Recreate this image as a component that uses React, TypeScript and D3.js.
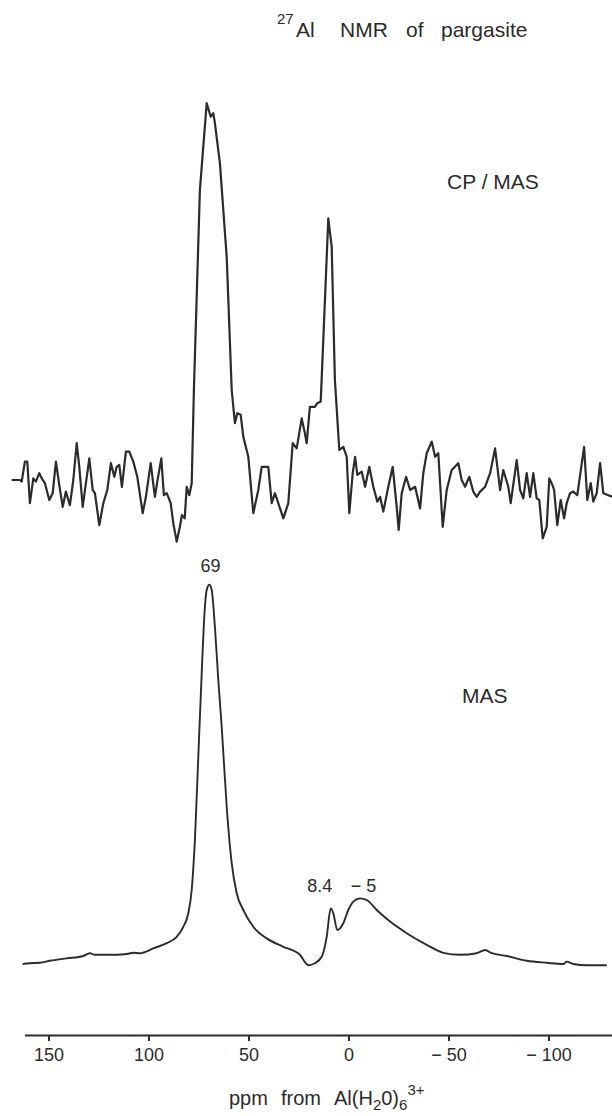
import React, { useEffect, useRef } from "react"
import * as d3 from "d3"

const W = 612
const H = 1116
const FONT = "'Liberation Sans', Arial, Helvetica, sans-serif"
const INK = "#2b2b2b"

// CP/MAS trace, chemical shift (ppm) and signal (peak ~ 100)
const cpShift = [
  168.4, 164.3, 163.4, 161.8, 160.6, 159.3, 157.6, 156.3, 154.6, 153.4,
  151.8, 149.6, 147.9, 146.3, 144.6, 142.9, 141.3, 139.3, 137.6, 135.9,
  134.6, 132.9, 129.6, 127.9, 126.8, 124.6, 122.6, 120.6, 118.8, 117.1,
  115.9, 114.6, 113.3, 111.3, 109.6, 107.6, 105.6, 102.9, 101.3, 98.9,
  96.8, 95.6, 93.6, 92.3, 90.9, 88.9, 87.6, 85.9, 84.3, 83.3,
  81.9, 80.9, 79.6, 78.4, 77.3, 74.3, 70.9, 68.9, 67.6, 66.8,
  64.3, 60.9, 58.4, 56.8, 55.6, 53.9, 52.6, 50.1, 47.6, 45.1,
  43.4, 40.1, 38.4, 36.8, 35.1, 32.6, 30.1, 27.9, 25.9, 23.4,
  21.8, 20.9, 19.3, 16.8, 15.6, 13.9, 12.6, 10.1, 8.4, 6.8,
  4.6, 2.6, 0.9, -0.4, -2.1, -3.3, -4.4, -6.6, -8.3, -10.4,
  -12.4, -14.4, -15.8, -17.4, -19.9, -22.1, -24.1, -25.1, -26.6, -28.8,
  -30.8, -33.3, -35.8, -37.4, -39.1, -41.6, -43.3, -44.9, -47.1, -49.1,
  -51.6, -54.9, -56.6, -58.3, -60.4, -62.4, -64.1, -65.8, -68.3, -70.8,
  -73.3, -75.8, -77.4, -79.9, -81.1, -84.1, -85.8, -87.4, -89.1, -90.8,
  -92.4, -94.1, -95.4, -97.1, -99.1, -100.4, -101.6, -102.8, -104.4, -106.1,
  -107.8, -109.1, -110.8, -112.4, -114.4, -117.8, -119.4, -121.1, -122.4, -124.1,
  -125.8, -127.4, -129.9, -131.8,
]
const cpSignal = [
  0, 0, -0.4, 4.6, 4.6, -5.8, 0.4, -0.4, 1.7, 0.4,
  -0.8, -5, -3.3, 4.6, -1.3, -6.7, -2.9, -6.3, 0, 9.2,
  3.3, -6.7, 5.4, -2.5, -3.3, -11.3, -5.8, -2.5, 4.2, 0.8,
  3.3, 3.8, -1.7, 7.1, 7.1, 4.6, 0.8, -8.3, -4.2, 4.2,
  -4.2, -0.4, 5.4, -3.8, -3.3, -5.8, -10.8, -15.4, -11.7, -8.8,
  -9.6, -1.7, -3.8, -0.8, 22.5, 72.5, 94.2, 90.8, 91.7, 89.2,
  79.2, 55.8, 22.5, 14.2, 16.7, 16.3, 10.8, 5.8, -8.3, -2.5,
  3.3, 3.3, -5.8, -3.3, -5.8, -9.6, -5.8, 9.2, 7.9, 15.4,
  11.7, 9.2, 18.3, 18.3, 19.2, 19.6, 35, 65.4, 58.3, 25,
  7.5, 8.3, 5.8, -8.3, 1.7, 5.8, 1.3, 2.1, -1.7, 3.3,
  -1.7, -5.4, -4.2, -7.9, -1.7, 3.3, -6.7, -12.5, -3.3, 0.8,
  -2.5, -1.7, -7.1, 1.7, 6.7, 9.6, 5.8, 6.7, -11.7, -2.5,
  2.5, 4.2, 0, -1.7, 0.8, -2.9, -4.2, -2.9, -1.7, 1.7,
  7.9, -2.5, 2.5, -1.7, -5.8, 5, -2.5, -4.6, 1.7, -4.2,
  1.7, -4.6, -5, -14.6, -11.7, 0.4, -0.8, -2.5, -11.3, -5,
  -9.6, -5.8, -3.3, -2.9, -3.8, 8.3, -5, -0.8, -5.4, -3.3,
  4.2, -3.3, -3.8, -4.2,
]

// MAS trace
const masShift = [
  162.9, 159.3, 154.3, 149.3, 140.9, 132.6, 129.3, 126.8, 120.9, 115.9,
  110.9, 107.6, 104.3, 97.6, 90.9, 85.9, 82.6, 80.1, 78.4, 76.8,
  75.1, 73.4, 72.3, 70.9, 69.6, 68.4, 66.8, 65.1, 63.4, 60.9,
  58.4, 55.9, 52.6, 47.6, 40.9, 32.6, 24.3, 20.1, 16.8, 13.4,
  10.9, 8.9, 7.6, 5.6, 2.6, 0.1, -2.4, -5.8, -9.1, -14.1,
  -20.8, -29.1, -39.1, -47.4, -55.8, -64.1, -68.3, -71.6, -79.1, -89.1,
  -99.1, -107.4, -109.1, -112.4, -119.1, -129.1,
]
const masSignal = [
  0, 0.2, 0.3, 0.8, 1.4, 2, 2.7, 2.3, 2.3, 2.3,
  2.5, 2.8, 2.7, 3.9, 5.2, 6.8, 9.3, 12.7, 18.5, 31,
  51.8, 72.7, 85.2, 93.5, 94.8, 93.5, 84.3, 71, 59.3, 39.3,
  25.2, 17.7, 13.5, 9.3, 6.4, 4.3, 2.3, -0.3, 0.2, 1.8,
  6.8, 13.9, 12.7, 8.5, 10.2, 13.5, 15.6, 16.4, 16, 13.5,
  10.6, 7.7, 4.8, 2.8, 2.3, 2.7, 3.5, 2.7, 2, 0.8,
  0.3, 0, 0.6, 0, -0.3, -0.3,
]

const axisTicks = [150, 100, 50, 0, -50, -100]
const peakLabels = [
  { shift: 69, text: "69", signal: 94.8, dx: 0, dy: 13 },
  { shift: 8.4, text: "8.4", signal: 16.4, dx: -12, dy: 6 },
  { shift: -5, text: "\u2212 5", signal: 16.4, dx: 5, dy: 6 },
]

export default function App() {
  const ref = useRef<SVGSVGElement>(null)

  useEffect(() => {
    const svg = d3.select(ref.current)
    svg.selectAll("*").remove()

    const x = d3.scaleLinear().domain([162, -132]).range([24.5, 612.5])
    const yCp = d3.scaleLinear().domain([0, 100]).range([480, 80])
    const yMas = d3.scaleLinear().domain([0, 100]).range([964, 564])

    svg.append("rect").attr("width", W).attr("height", H).attr("fill", "#fff")

    // title
    const title = svg
      .append("text")
      .attr("font-family", FONT)
      .attr("font-size", 21)
      .attr("fill", INK)
    title.append("tspan").attr("x", 277).attr("y", 24).attr("font-size", 15).text("27")
    title.append("tspan").attr("x", 296).attr("y", 37).text("Al")
    title.append("tspan").attr("x", 340).attr("y", 37).text("NMR")
    title.append("tspan").attr("x", 406).attr("y", 37).text("of")
    title.append("tspan").attr("x", 441).attr("y", 37).text("pargasite")

    const cpData = d3.range(cpShift.length).map((i) => [cpShift[i], cpSignal[i]])
    const masData = d3.range(masShift.length).map((i) => [masShift[i], masSignal[i]])

    const cpLine = d3
      .line<number[]>()
      .x((d) => x(d[0]))
      .y((d) => yCp(d[1]))
    const masLine = d3
      .line<number[]>()
      .x((d) => x(d[0]))
      .y((d) => yMas(d[1]))
      .curve(d3.curveMonotoneX)

    svg
      .append("path")
      .attr("d", cpLine(cpData))
      .attr("fill", "none")
      .attr("stroke", INK)
      .attr("stroke-width", 2.2)
      .attr("stroke-linejoin", "round")

    svg
      .append("path")
      .attr("d", masLine(masData))
      .attr("fill", "none")
      .attr("stroke", INK)
      .attr("stroke-width", 1.9)
      .attr("stroke-linejoin", "round")

    svg
      .append("text")
      .attr("x", 447)
      .attr("y", 189)
      .attr("font-family", FONT)
      .attr("font-size", 21)
      .attr("fill", INK)
      .text("CP / MAS")

    svg
      .append("text")
      .attr("x", 462)
      .attr("y", 703)
      .attr("font-family", FONT)
      .attr("font-size", 21)
      .attr("fill", INK)
      .text("MAS")

    // peak labels
    svg
      .selectAll(".peak")
      .data(peakLabels)
      .enter()
      .append("text")
      .attr("class", "peak")
      .attr("x", (d) => x(d.shift) + d.dx)
      .attr("y", (d) => yMas(d.signal) - d.dy)
      .attr("text-anchor", "middle")
      .attr("font-family", FONT)
      .attr("font-size", 18)
      .attr("fill", INK)
      .text((d) => d.text)

    // axis
    const axis = svg
      .append("g")
      .attr("transform", "translate(0,1035)")
      .call(
        d3
          .axisBottom(x)
          .tickValues(axisTicks)
          .tickSize(6)
          .tickSizeOuter(0)
          .tickPadding(7)
          .tickFormat((d) => (+d < 0 ? "\u2212 " + Math.abs(+d) : String(d)))
      )
    axis.select(".domain").attr("stroke", INK).attr("stroke-width", 2.2)
    axis.selectAll(".tick line").attr("stroke", INK).attr("stroke-width", 2)
    axis
      .selectAll(".tick text")
      .attr("font-family", FONT)
      .attr("font-size", 18)
      .attr("fill", INK)

    // axis title
    const xt = svg
      .append("text")
      .attr("y", 1105)
      .attr("font-family", FONT)
      .attr("font-size", 20)
      .attr("fill", INK)
    xt.append("tspan").attr("x", 229).text("ppm")
    xt.append("tspan").attr("x", 281).text("from")
    xt.append("tspan").attr("x", 334).text("Al(H")
    xt.append("tspan").attr("dy", 5).attr("font-size", 15).text("2")
    xt.append("tspan").attr("dy", -5).text("0)")
    xt.append("tspan").attr("dy", 5).attr("font-size", 15).text("6")
    xt.append("tspan").attr("dy", -15).attr("font-size", 15).text("3+")
  }, [])

  return (
    <svg
      ref={ref}
      width={W}
      height={H}
      style={{ position: "absolute", left: 0, top: 0 }}
    />
  )
}
